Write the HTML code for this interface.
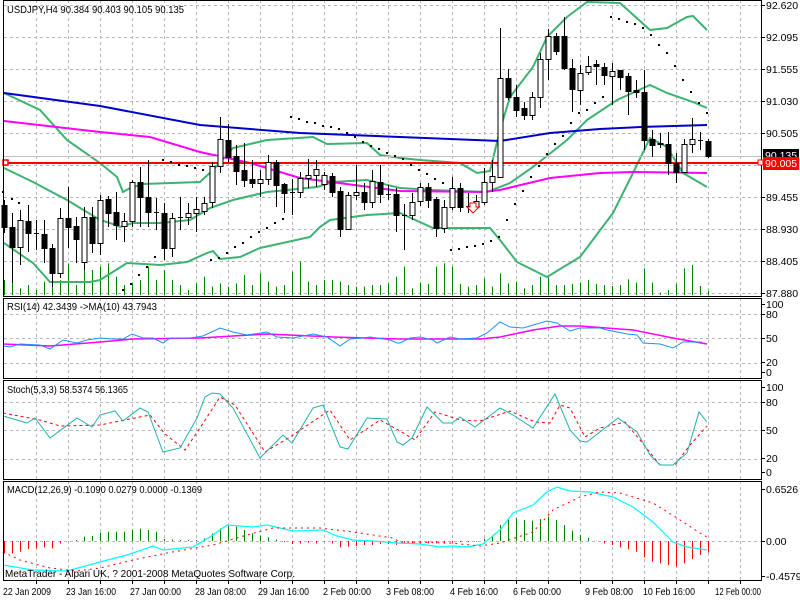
<!DOCTYPE html>
<html><head><meta charset="utf-8"><style>
html,body{margin:0;padding:0;background:#fff;}
svg{display:block;}
text{font-family:"Liberation Sans",sans-serif;font-size:10.5px;fill:#000;}
</style></head><body>
<svg id="s" width="800" height="600" xmlns="http://www.w3.org/2000/svg"></svg>
<script>
const S=document.getElementById('s');let h='';
function P(pts,c,w,d){h+=`<polyline fill="none" stroke="${c}" stroke-width="${w}" ${d?`stroke-dasharray="${d}"`:''} points="${pts.map(p=>p.join(',')).join(' ')}"/>`;}
function L(x1,y1,x2,y2,c,w,d){h+=`<line x1="${x1}" y1="${y1}" x2="${x2}" y2="${y2}" stroke="${c}" stroke-width="${w||1}" ${d?`stroke-dasharray="${d}"`:''}/>`;}
function T(x,y,t,a,c,tl){h+=`<text x="${x}" y="${y}" ${a?`text-anchor="${a}"`:''} ${c?`style="fill:${c}"`:''} ${tl?`textLength="${tl}" lengthAdjust="spacingAndGlyphs"`:''}>${t}</text>`;}
const G='#b8b8b8';
const panes=[[0,296],[298,378],[380,479],[481,580]];
for(let k=0;k<=22;k++){const x=36+32*k+0.5;panes.forEach(p=>L(x,p[0],x,p[1],G,1,'3,3'));}
[5,37,69,101,133,165,197,229,261,293].forEach(y=>L(4,y+.5,761,y+.5,G,1,'3,3'));
[314,338,363].forEach(y=>L(4,y+.5,761,y+.5,G,1,'3,3'));
[402,430,459].forEach(y=>L(4,y+.5,761,y+.5,G,1,'3,3'));
L(4,541.5,761,541.5,G,1,'3,3');
const vol=[840,825,865,855,870,845,835,840,790,855,810,810,800,790,830,855,850,840,800,840,810,840,855,870,850,830,860,850,860,850,825,855,820,845,860,855,815,785,845,855,840,840,845,855,860,860,855,855,850,830,
800,865,848,852,800,790,800,852,860,855,835,860,820,850,845,865,855,830,832,855,855,852,848,840,852,855,858,855,838,848,805,848,878,870,852,805,795,858,873];
vol.forEach((v,i)=>{const x=4+8*i+.5;L(x,295,x,v/3,'#008000',1);});
P([[4,93],[40,110],[67,140],[100,163],[117,177],[123,192],[130,188],[143,184],[200,182],[213,170],[233,148],[267,140],[313,137],[327,144],[367,143],[380,155],[400,158],[420,160],[460,163],[477,173],[490,171],[500,130],[510,97],[533,67],[547,37],[567,17],[587,2],[620,3],[650,30],[667,28],[687,17],[693,16],[707,30]],'#3CB371',2);
P([[4,168],[33,182],[67,200],[100,220],[110,223],[120,227],[133,223],[160,223],[190,220],[210,208],[233,200],[267,192],[317,187],[333,182],[367,180],[400,188],[433,190],[487,192],[510,183],[533,167],[567,140],[587,120],[617,100],[650,85],[667,93],[693,102],[707,108]],'#3CB371',2);
P([[4,243],[33,263],[50,282],[90,282],[100,280],[127,263],[160,265],[187,262],[207,253],[213,251],[220,259],[240,257],[260,248],[310,237],[320,227],[330,220],[367,215],[400,213],[433,228],[490,228],[500,240],[517,262],[547,277],[580,257],[613,213],[633,173],[650,138],[667,147],[683,173],[707,187]],'#3CB371',2);
P([[4,93],[100,106],[200,125],[300,133],[400,137],[500,141],[550,133],[600,129],[640,127],[707,125]],'#0000CD',2);
P([[4,121],[100,132],[150,137],[200,152],[250,163],[300,178],[400,191],[483,192],[500,190],[550,178],[600,173],[633,172],[707,173]],'#FF00FF',2);
L(4,156.5,761,156.5,'#c0c0c0',1);
L(4,163,761,163,'#FF0000',2);
h+='<rect x="3" y="160" width="5" height="5" fill="#fff" stroke="#f00" stroke-width="1.5"/>';
const sar=[[3,192],[12,199],[19,203],[123,290],[131,284],[139,275],[147,267],[155,257],[163,160],[171,162],[179,165],[187,166],[195,168],[203,170],[211,260],[219,258],[227,253],[235,247],[243,243],[251,237],[259,232],[267,228],[275,223],[283,219],[291,117],[299,119],[307,122],[315,123],[323,126],[331,127],[339,129],[347,133],[355,137],[363,142],[371,146],[379,149],[387,153],[395,156],[403,159],[411,165],[419,170],[427,174],[435,179],[443,183],[451,250],[459,249],[467,247],[475,246],[483,244],[491,241],[499,237],[507,220],[515,204],[523,191],[531,177],[539,166],[547,154],[555,144],[563,136],[571,123],[579,113],[587,110],[595,103],[603,97],[611,17],[619,19],[627,22],[635,24],[643,28],[651,35],[659,45],[667,53],[675,66],[683,80],[691,92],[699,103],[707,113]];
sar.forEach(p=>h+=`<rect x="${p[0]-1}" y="${p[1]-1}" width="2" height="2" fill="#000"/>`);
const C=[[205,227,200,233,0],[227,247,213,283,0],[220,247,210,265,1],[221,233,205,252,0],[233,233,220,250,2],[234,248,220,263,0],[248,273,244,287,0],[218,273,208,278,1],[218,227,187,248,0],[226,239,217,263,0],[217,262,207,270,1],[217,243,207,253,0],[200,243,195,255,1],[199,213,196,227,0],[212,225,192,240,0],[221,226,213,242,1],[182,221,180,227,1],[182,197,167,227,0],[197,212,160,227,0],[212,212,198,230,2],[213,248,203,260,0],[218,248,213,257,1],[217,217,197,230,2],[213,217,203,225,1],[209,213,197,232,1],[203,211,197,215,1],[166,202,162,208,1],[139,166,117,173,1],[140,157,124,162,0],[156,171,145,185,0],[170,180,143,187,0],[179,183,160,188,0],[179,183,170,197,1],[162,179,155,185,1],[162,185,160,207,0],[184,193,183,213,0],[192,192,179,215,2],[178,192,172,198,1],[175,178,159,188,1],[169,175,160,187,1],[175,184,172,190,1],[176,192,173,197,0],[191,229,187,237,0],[195,229,192,230,1],[192,195,165,200,1],[192,202,183,210,0],[181,202,170,208,1],[182,194,165,203,0],[194,194,185,200,2],[194,215,188,232,0],
[215,215,204,250,2],[202,215,193,220,1],[187,201,183,206,1],[187,200,183,208,0],[199,228,197,237,0],[207,228,200,233,1],[188,207,177,210,1],[188,207,183,212,0],[206,206,193,213,2],[201,207,195,210,1],[182,202,168,205,1],[176,182,160,192,1],[78,177,28,178,1],[78,97,69,100,0],[97,110,85,117,0],[108,115,102,120,0],[97,115,92,120,1],[59,97,53,108,1],[36,59,29,80,1],[36,51,33,55,0],[36,68,17,70,0],[68,89,59,112,0],[73,90,65,105,1],[66,72,56,75,1],[64,66,60,85,0],[67,75,63,85,0],[71,76,63,105,1],[70,77,70,90,0],[76,91,73,115,0],[90,92,80,98,0],[92,140,70,150,0],[139,145,130,157,0],[143,144,133,148,0],[144,163,132,175,0],[163,172,153,183,0],[144,172,139,172,1],[139,144,118,153,1],[140,140,132,150,2],[141,156,139,158,0]];
C.forEach((c,i)=>{const x=4+8*i;L(x+.5,c[2],x+.5,c[3],'#000',1);
 if(c[4]==2)L(x-2,c[0]+.5,x+3,c[0]+.5,'#000',1);
 else h+=`<rect x="${x-2}" y="${c[0]+.5}" width="5" height="${Math.max(c[1]-c[0],1)}" fill="${c[4]?'#fff':'#000'}" stroke="#000" stroke-width="1"/>`;});
h+='<path d="M470,203 h6 v4 h3 l-6,6 l-6,-6 h3z" fill="#fff" stroke="#f00" stroke-width="1"/>';
P([[3,344],[50,346],[100,342],[133,339],[200,338],[233,336],[267,334],[333,337],[400,339],[480,339],[500,337],[533,330],[560,326],[580,326],[633,330],[673,338],[707,344]],'#FF00FF',1.5);
P([[3,346],[10,347],[20,344],[40,345],[50,349],[63,340],[77,343],[87,340],[100,338],[113,339],[123,339],[132,334],[143,338],[153,338],[163,343],[170,338],[190,338],[203,336],[220,328],[233,332],[247,335],[267,332],[277,337],[293,338],[313,334],[327,337],[340,346],[350,339],[363,338],[370,337],[390,340],[397,343],[400,343],[410,338],[420,337],[433,340],[437,343],[450,337],[460,339],[477,338],[487,333],[500,322],[510,327],[523,328],[547,321],[557,323],[570,331],[580,328],[600,328],[607,330],[627,334],[637,335],[643,343],[660,344],[673,348],[683,342],[702,342]],'#1E90FF',1);
P([[3,413],[40,420],[60,426],[100,425],[150,415],[165,434],[185,450],[200,428],[220,397],[235,405],[265,452],[290,437],[330,410],[350,440],[380,420],[400,431],[415,440],[435,412],[445,415],[460,420],[480,421],[510,411],[535,422],[550,423],[560,405],[570,408],[585,437],[600,428],[625,422],[640,440],[660,465],[675,465],[690,445],[707,426]],'#FF0000',1,'3,3');
P([[3,416],[27,423],[35,418],[50,438],[77,418],[92,427],[100,415],[115,411],[123,421],[140,408],[148,412],[163,452],[180,448],[197,418],[205,397],[212,393],[220,394],[233,408],[260,458],[283,435],[292,443],[313,408],[323,405],[340,447],[348,449],[367,418],[387,419],[397,442],[403,445],[412,438],[427,407],[443,423],[452,423],[460,417],[475,427],[500,408],[513,415],[533,428],[555,394],[570,430],[580,441],[587,442],[618,418],[637,432],[650,455],[660,465],[673,465],[687,453],[699,412],[707,422]],'#20B2AA',1);
const mh=[220,220,215,207,205,202,205,190,184,180,170,168,158,155,155,155,150,146,150,155,177,179,180,180,180,175,160,145,138,140,150,160,167,172,179,186,192,190,188,190,185,190,202,200,198,195,195,192,192,195,
190,192,190,190,190,190,188,186,186,185,176,170,135,118,115,120,122,117,110,120,135,152,165,173,182,190,195,202,208,215,232,245,250,255,260,250,237,225,218];
mh.forEach((v,i)=>{const x=4+8*i+.5,y=480+v/3;L(x,541,x,y,y<541?'#008000':'#FF0000',1);});
P([[3,565],[33,570],[67,571],[100,562],[127,555],[153,546],[163,550],[193,547],[210,537],[227,525],[253,527],[267,525],[293,531],[323,530],[337,536],[353,540],[373,541],[397,543],[420,544],[440,547],[453,546],[467,547],[483,544],[500,530],[513,513],[533,505],[547,492],[557,487],[570,491],[590,492],[613,497],[633,507],[653,522],[673,542],[687,547],[707,550]],'#00FFFF',1.2);
P([[3,552],[20,560],[50,568],[77,571],[100,568],[133,560],[167,553],[213,545],[247,535],[273,528],[320,528],[353,532],[393,538],[400,542],[450,543],[480,546],[500,543],[533,532],[553,510],[580,497],[600,492],[620,493],[653,503],[677,518],[700,533],[707,537]],'#FF0000',1,'2,4');
panes.forEach(p=>{h+=`<rect x="3.5" y="${p[0]+.5}" width="758" height="${p[1]-p[0]}" fill="none" stroke="#000" stroke-width="1"/>`;});
T(7,13,'USDJPY,H4  90.384 90.403 90.105 90.135','','',177);
T(7,310,'RSI(14) 42.3439  -&gt;MA(10) 43.7943','','',150);
T(7,393,'Stoch(5,3,3) 58.5374 56.1365','','',121);
T(7,493,'MACD(12,26,9) -0.1090 0.0279 0.0000 -0.1369','','',195);
T(5,577,'MetaTrader - Alpari UK, ? 2001-2008 MetaQuotes Software Corp.','','',290);
[[5,'92.620'],[37,'92.095'],[69,'91.555'],[101,'91.030'],[133,'90.505'],[197,'89.455'],[229,'88.930'],[261,'88.405'],[293,'87.880']].forEach(a=>{L(761,a[0]+.5,765,a[0]+.5,'#000');T(766,a[0]+4,a[1]);});
h+='<rect x="763" y="149" width="36" height="13" fill="#000"/>';T(765,159,'90.135','', '#fff');
h+='<rect x="763" y="157" width="36" height="13" fill="#f00"/>';T(765,167,'90.005','','#fff');
h+='<rect x="758" y="160" width="5" height="5" fill="#fff" stroke="#f00"/>';
[[304,'100'],[314,'80'],[338,'50'],[362,'20'],[372,'0'],[387,'100'],[402,'80'],[430,'50'],[458,'20'],[472,'0'],[489,'0.6526'],[541,'0.00'],[576,'-0.4579']].forEach(a=>{L(761,a[0]+.5,765,a[0]+.5,'#000');T(766,a[0]+4,a[1]);});
for(let k=0;k<=22;k++){const x=36+32*k+.5;L(x,580,x,584,'#000');}
[[3,'22 Jan 2009',48],[66,'23 Jan 16:00',50],[130,'27 Jan 00:00',51],[195,'28 Jan 08:00',51],[258,'29 Jan 16:00',51],[323,'2 Feb 00:00',48],[386,'3 Feb 08:00',48],[450,'4 Feb 16:00',48],[513,'6 Feb 00:00',48],[585,'9 Feb 08:00',48],[643,'10 Feb 16:00',52],[715,'12 Feb 00:00',46]].forEach(a=>T(a[0],595,a[1],'','',a[2]));
S.innerHTML=h;
</script>
</body></html>
